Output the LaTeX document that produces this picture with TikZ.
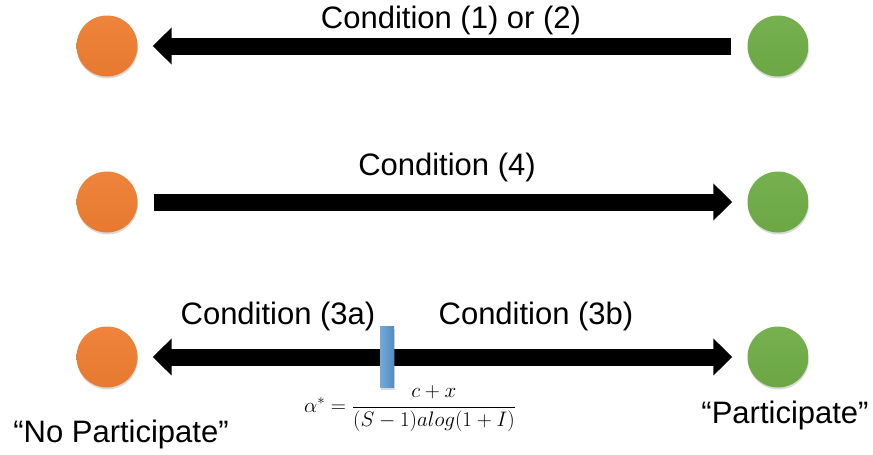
\RequirePackage{fix-cm}
\documentclass[tikz,border=0pt]{standalone}
\usepackage{amsmath}
\usepackage{fontspec}
\setmainfont{Liberation Sans}
\usetikzlibrary{arrows.meta,shadows}
\definecolor{dotorange}{HTML}{EE7D31}
\definecolor{dotgreen}{HTML}{6FAC46}
\definecolor{barblue}{HTML}{5B9BD5}
\begin{document}
\begin{tikzpicture}[x=1pt,y=-1pt,
    dot/.style={circle,minimum size=61pt,inner sep=0pt,
        drop shadow={opacity=0.3,shadow xshift=0.5pt,shadow yshift=-2pt}},
    nodot/.style={dot,top color=dotorange!95!white,bottom color=dotorange!97!black},
    yesdot/.style={dot,top color=dotgreen!95!white,bottom color=dotgreen!97!black},
    fat/.style={line width=17pt,-{Triangle[length=19pt,width=36pt]}},
    label/.style={font=\fontsize{31}{34}\selectfont,anchor=base}]
    \useasboundingbox (0,0) rectangle (873,455);

    % Condition (1) or (2): back to No Participate
    \node[nodot] (no1) at (107,46) {};
    \node[yesdot] (yes1) at (778,46) {};
    \draw[fat, shorten >=15pt, shorten <=16pt] (yes1) -- (no1);
    \node[label] (c12) at (451,28) {Condition (1) or (2)};

    % Condition (4): on to Participate
    \node[nodot] (no2) at (107,202) {};
    \node[yesdot] (yes2) at (778,202) {};
    \draw[fat, shorten >=15pt, shorten <=16pt] (no2) -- (yes2);
    \node[label] (c4) at (447,175) {Condition (4)};

    % Condition (3a)/(3b): split at the threshold
    \node[nodot] (no3) at (107,357) {};
    \node[yesdot] (yes3) at (778,357) {};
    \draw[fat, {Triangle[length=19pt,width=36pt]}-{Triangle[length=19pt,width=36pt]},
        shorten >=15pt, shorten <=15pt] (no3) -- (yes3);
    \node[minimum width=14pt,minimum height=61pt,inner sep=0pt,
        left color=barblue!85!white,right color=barblue!90!black,
        drop shadow={opacity=0.3,shadow xshift=0.5pt,shadow yshift=-2pt}] (cut) at (387,357) {};
    \node[label] (c3a) at (278,324) {Condition (3a)};
    \node[label] (c3b) at (536,324) {Condition (3b)};
    \node[font=\fontsize{21}{24}\selectfont] (alpha) at (410,409)
        {$\alpha^* = \dfrac{c+x}{(S-1)alog(1+I)}$};

    \node[label] (yes) at (785,423) {“Participate”};
    \node[label] (no) at (121,442) {“No Participate”};
\end{tikzpicture}
\end{document}
